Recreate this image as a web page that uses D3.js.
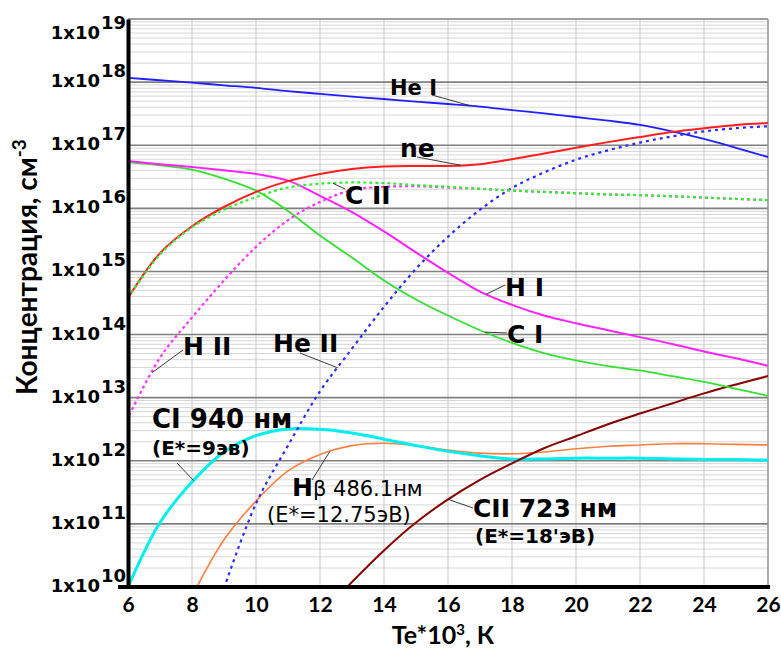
<!DOCTYPE html>
<html>
<head>
<meta charset="utf-8">
<script src="https://cdn.jsdelivr.net/npm/d3@7"></script>
<style>
  body { margin: 0; background: #fff; }
  svg { display: block; }
</style>
</head>
<body>
<svg id="chart" width="781" height="650"></svg>
<script>
// Electron temperature, 10^3 K
const temps = [6, 7, 8, 9, 10, 11, 12, 13, 14, 15, 16, 17, 18, 19, 20, 21, 22, 23, 24, 25, 26];

// Concentrations, cm^-3 (null = below the plotted range)
const heI  = [1.17e18, 1.07e18, 9.8e17, 8.9e17, 8.1e17, 7.2e17, 6.5e17, 5.9e17, 5.4e17, 4.9e17, 4.5e17, 4.1e17, 3.6e17, 3.2e17, 2.8e17, 2.45e17, 2.1e17, 1.66e17, 1.26e17, 9.1e16, 6.5e16];
const ne   = [3.8e14, 1.95e15, 5.2e15, 1.05e16, 1.82e16, 2.7e16, 3.5e16, 4.2e16, 4.6e16, 4.7e16, 4.7e16, 5.0e16, 6.0e16, 7.4e16, 9.1e16, 1.12e17, 1.35e17, 1.62e17, 1.86e17, 2.1e17, 2.24e17];
const cII  = [3.8e14, 1.85e15, 5.0e15, 9.5e15, 1.51e16, 2.14e16, 2.45e16, 2.57e16, 2.51e16, 2.34e16, 2.19e16, 2.04e16, 1.91e16, 1.82e16, 1.74e16, 1.66e16, 1.62e16, 1.55e16, 1.48e16, 1.41e16, 1.35e16];
const hII  = [4.8e12, 4.3e13, 1.86e14, 7.2e14, 2.45e15, 6.5e15, 1.26e16, 1.95e16, 2.19e16, 2.24e16, 2.14e16, 2.04e16, 1.91e16, 1.82e16, 1.74e16, 1.66e16, 1.62e16, 1.55e16, 1.48e16, 1.41e16, 1.35e16];
const hI   = [5.6e16, 5.0e16, 4.5e16, 4.0e16, 3.5e16, 2.75e16, 1.58e16, 8.7e15, 4.3e15, 2.0e15, 9.5e14, 4.8e14, 2.95e14, 2.0e14, 1.51e14, 1.17e14, 9.1e13, 7.1e13, 5.4e13, 4.2e13, 3.2e13];
const cI   = [5.4e16, 4.8e16, 4.1e16, 2.95e16, 1.91e16, 9.1e15, 3.7e15, 1.66e15, 7.2e14, 3.6e14, 2.0e14, 1.17e14, 7.4e13, 5.1e13, 3.9e13, 3.16e13, 2.7e13, 2.19e13, 1.78e13, 1.38e13, 1.07e13];
const heII = [null, null, null, 9.5e9, 2.1e11, 1.74e12, 1.26e13, 6.0e13, 2.75e14, 1.1e15, 3.55e15, 9.5e15, 2.1e16, 3.7e16, 5.9e16, 8.3e16, 1.1e17, 1.38e17, 1.66e17, 1.86e17, 2.0e17];
const ci940  = [1.0e10, 1.05e11, 4.6e11, 1.38e12, 2.5e12, 3.2e12, 3.15e12, 2.75e12, 2.2e12, 1.74e12, 1.41e12, 1.2e12, 1.07e12, 1.07e12, 1.1e12, 1.1e12, 1.1e12, 1.07e12, 1.05e12, 1.05e12, 1.02e12];
const hBeta  = [null, null, 7.1e9, 5.6e10, 2.3e11, 6.9e11, 1.26e12, 1.74e12, 1.9e12, 1.74e12, 1.48e12, 1.32e12, 1.29e12, 1.38e12, 1.55e12, 1.7e12, 1.78e12, 1.86e12, 1.86e12, 1.82e12, 1.78e12];
const cII723 = [null, null, null, null, null, null, 3.5e9, 1.2e10, 3.8e10, 1.05e11, 2.45e11, 5.0e11, 9.1e11, 1.58e12, 2.45e12, 3.8e12, 5.6e12, 8.1e12, 1.17e13, 1.62e13, 2.2e13];

// Tick values
const xTicks = [6, 8, 10, 12, 14, 16, 18, 20, 22, 24, 26];
const yExponents = [10, 11, 12, 13, 14, 15, 16, 17, 18, 19];

const svg = d3.select("#chart");
const plotLeft = 128, plotRight = 768, plotTop = 19, plotBottom = 587;

const x = d3.scaleLinear().domain([6, 26]).range([plotLeft, plotRight]);
const y = d3.scaleLog().domain([1e10, 1e19]).range([plotBottom, plotTop]);

// ---------- grid ----------
const grid = svg.append("g");
// minor horizontal lines (2..9 within each decade)
const minor = [];
for (let e = 10; e < 19; e++) for (let k = 2; k <= 9; k++) minor.push(k * Math.pow(10, e));
grid.selectAll("line.minor").data(minor).join("line")
  .attr("x1", plotLeft).attr("x2", plotRight)
  .attr("y1", d => y(d)).attr("y2", d => y(d))
  .attr("stroke", "#d6d6d6").attr("stroke-width", 1);
// vertical lines at the temperature ticks
grid.selectAll("line.v").data(xTicks.slice(1)).join("line")
  .attr("x1", d => x(d)).attr("x2", d => x(d))
  .attr("y1", plotTop).attr("y2", plotBottom)
  .attr("stroke", "#cfcfcf").attr("stroke-width", 1.2);
// decade lines
grid.selectAll("line.major").data(yExponents.slice(1)).join("line")
  .attr("x1", plotLeft).attr("x2", plotRight)
  .attr("y1", d => y(Math.pow(10, d))).attr("y2", d => y(Math.pow(10, d)))
  .attr("stroke", "#7f7f7f").attr("stroke-width", 1.6);
// right frame edge
grid.append("line").attr("x1", plotRight).attr("x2", plotRight).attr("y1", plotTop).attr("y2", plotBottom)
  .attr("stroke", "#8a8a8a").attr("stroke-width", 1.2);

// ---------- curves ----------
svg.append("defs").append("clipPath").attr("id", "plot")
  .append("rect").attr("x", plotLeft).attr("y", plotTop)
  .attr("width", plotRight - plotLeft).attr("height", plotBottom - plotTop);

const series = [
  { v: hBeta,  color: "#ff7f40", w: 1.6 },
  { v: ci940,  color: "#00eeee", w: 3 },
  { v: cII723, color: "#870000", w: 2 },
  { v: cI,     color: "#33e033", w: 1.8 },
  { v: hI,     color: "#ff22ff", w: 2 },
  { v: heI,    color: "#2020ff", w: 1.8 },
  { v: ne,     color: "#ff1f1f", w: 2 },
  { v: heII,   color: "#2a2aff", w: 2.2, dash: "3,4" },
  { v: hII,    color: "#ff33ff", w: 2.2, dash: "3,3", off: 3 },
  { v: cII,    color: "#33ee33", w: 2.2, dash: "3,3", off: 0 }
];

const line = d3.line()
  .defined(d => d[1] != null)
  .x(d => x(d[0]))
  .y(d => y(d[1]))
  .curve(d3.curveCatmullRom.alpha(0.5));

const curves = svg.append("g").attr("clip-path", "url(#plot)");
series.forEach(s => {
  curves.append("path")
    .datum(temps.map((t, i) => [t, s.v[i]]))
    .attr("d", line)
    .attr("fill", "none")
    .attr("stroke", s.color)
    .attr("stroke-width", s.w)
    .attr("stroke-dasharray", s.dash || null)
    .attr("stroke-dashoffset", s.off || 0);
});

// ---------- axes ----------
const xAxis = d3.axisBottom(x).tickValues(xTicks).tickSize(0).tickPadding(10).tickFormat(d3.format("d"));
const gx = svg.append("g").attr("transform", `translate(0,${plotBottom})`).call(xAxis);
gx.select(".domain").remove();
gx.selectAll("text").attr("font-family", "Lato, 'Open Sans', sans-serif").attr("font-weight", "bold")
  .attr("font-size", 21).attr("fill", "#000");

const yAxis = d3.axisLeft(y).tickValues(yExponents.map(e => Math.pow(10, e))).tickSize(0).tickFormat("");
const gy = svg.append("g").attr("transform", `translate(${plotLeft},0)`).call(yAxis);
gy.select(".domain").attr("stroke", "#000").attr("stroke-width", 4);

svg.append("line").attr("x1", plotLeft - 10).attr("x2", plotRight + 2).attr("y1", plotBottom).attr("y2", plotBottom)
  .attr("stroke", "#000").attr("stroke-width", 4);

// decade labels: 1x10^n
const yl = svg.append("g").attr("font-family", "'DejaVu Sans', Verdana, sans-serif")
  .attr("font-weight", "bold").attr("font-size", 18).attr("fill", "#000");
yExponents.forEach(e => {
  const base = Math.max(y(Math.pow(10, e)) + 5, plotTop + 20);
  yl.append("text").attr("x", 100).attr("y", base).attr("text-anchor", "end").text("1x10");
  yl.append("text").attr("x", 101).attr("y", base - 10).attr("text-anchor", "start").text(e);
});

// axis titles
const yt = svg.append("text")
  .attr("transform", "translate(37,267) rotate(-90)")
  .attr("text-anchor", "middle")
  .attr("font-family", "Lato, 'Open Sans', sans-serif").attr("font-weight", "bold")
  .attr("font-size", 28).attr("fill", "#000");
yt.append("tspan").text("Концентрация, см");
yt.append("tspan").attr("dy", -11).attr("font-size", 19).text("-3");

const xt = svg.append("text")
  .attr("x", 443).attr("y", 644)
  .attr("text-anchor", "middle")
  .attr("font-family", "Lato, 'Open Sans', sans-serif").attr("font-weight", "bold")
  .attr("font-size", 25).attr("fill", "#000");
xt.append("tspan").text("Te*10");
xt.append("tspan").attr("dy", -9).attr("font-size", 15).text("3");
xt.append("tspan").attr("dy", 9).text(", К");

// ---------- annotations ----------
function valueAt(vals, t) {
  const i = Math.min(Math.floor(t - temps[0]), temps.length - 2);
  const f = t - temps[i];
  const a = Math.log10(vals[i]), b = Math.log10(vals[i + 1]);
  return Math.pow(10, a + (b - a) * f);
}

const notes = [
  { s: heI,    t: 16.7,  lx: 432, ly: 95  },
  { s: ne,     t: 16.4,  lx: 417, ly: 157 },
  { s: cII,    t: 12.4,  lx: 345, ly: 189 },
  { s: hI,     t: 17.2,  lx: 505, ly: 285 },
  { s: cI,     t: 17.15, lx: 507, ly: 333 },
  { s: hII,    t: 6.75,  lx: 183, ly: 350 },
  { s: heII,   t: 12.55, lx: 300, ly: 353 },
  { s: ci940,  t: 8.05,  lx: 177, ly: 463 },
  { s: hBeta,  t: 12.3,  lx: 312, ly: 480 },
  { s: cII723, t: 16.0,  lx: 473, ly: 508 }
];
const ann = svg.append("g");
notes.forEach(n => {
  ann.append("line")
    .attr("x1", n.lx).attr("y1", n.ly)
    .attr("x2", x(n.t)).attr("y2", y(valueAt(n.s, n.t)))
    .attr("stroke", "#222").attr("stroke-width", 0.9);
});

const lab = svg.append("g").attr("font-family", "'DejaVu Sans', Verdana, sans-serif")
  .attr("font-weight", "bold").attr("fill", "#000");
function label(tx, ty, size, parts, weight) {
  const t = lab.append("text").attr("x", tx).attr("y", ty).attr("font-size", size);
  if (weight) t.attr("font-weight", weight);
  parts.forEach(p => {
    const sp = t.append("tspan").text(p.text);
    if (p.size) sp.attr("font-size", p.size);
    if (p.weight) sp.attr("font-weight", p.weight);
  });
  return t;
}
label(390, 95, 21, [{ text: "He I" }]);
label(400, 157, 25, [{ text: "ne" }]);
label(345, 204, 25, [{ text: "C II" }]);
label(505, 296, 25, [{ text: "H I" }]);
label(507, 343, 25, [{ text: "C I" }]);
label(183, 355, 25, [{ text: "H II" }]);
label(273, 352, 25, [{ text: "He II" }]);
label(152, 428, 26, [{ text: "CI 940 нм" }]);
label(152, 455, 20, [{ text: "(E*=9эв)" }]);
label(292, 496, 25, [{ text: "H" }, { text: "β 486.1нм", size: 21, weight: "normal" }]);
label(267, 522, 21, [{ text: "(E*=12.75эВ)" }], "normal");
label(473, 517, 25, [{ text: "CII 723 нм" }]);
label(475, 543, 20, [{ text: "(E*=18'эВ)" }]);
</script>
</body>
</html>
